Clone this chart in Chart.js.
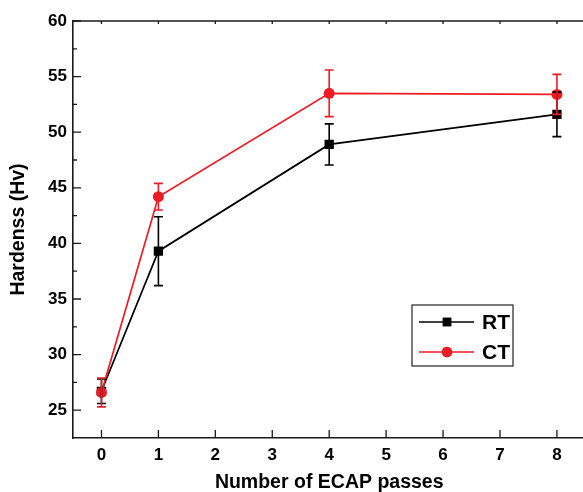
<!DOCTYPE html>
<html lang="en">
<head>
<meta charset="UTF-8">
<title>Hardness vs ECAP passes</title>
<script src="https://cdn.jsdelivr.net/npm/chart.js"></script>
<style>
    html, body { margin: 0; padding: 0; background: #fff; overflow: hidden; }
    body { width: 583px; height: 492px; }
    #wrap { width: 592px; height: 492px; }
</style>
</head>
<body>
<div id="wrap"><canvas id="chartCanvas"></canvas></div>
<script>
// data
const passes = [0, 1, 4, 8];
const rtValues = [26.7, 39.3, 48.9, 51.6];
const rtErrors = [1.1, 3.1, 1.85, 2.0];
const ctValues = [26.6, 44.2, 53.5, 53.4];
const ctErrors = [1.3, 1.2, 2.1, 1.8];
const xTicks = [0, 1, 2, 3, 4, 5, 6, 7, 8];
const yTicks = [25, 30, 35, 40, 45, 50, 55, 60];
const yMinorTicks = [27.5, 32.5, 37.5, 42.5, 47.5, 52.5, 57.5];

const RED = '#ec1c24';
const BLACK = '#000000';
const AXIS = '#1a1a1a';
const FONT = 'Arial, "Liberation Sans", sans-serif';

const series = [
    { label: 'RT', values: rtValues, errors: rtErrors, color: BLACK, style: 'rect', radius: 6.6 },
    { label: 'CT', values: ctValues, errors: ctErrors, color: RED, style: 'circle', radius: 5.5 }
];

// inward ticks + top frame line
const frame = {
    id: 'frame',
    afterDatasetsDraw(chart) {
        const { ctx, chartArea: a, scales: { x, y } } = chart;
        ctx.save();
        ctx.strokeStyle = AXIS;
        ctx.lineWidth = 1.6;
        ctx.beginPath();
        ctx.moveTo(a.left, a.top);
        ctx.lineTo(a.right, a.top);
        ctx.stroke();
        ctx.lineWidth = 1.3;
        ctx.beginPath();
        xTicks.forEach(v => {
            const px = x.getPixelForValue(v);
            ctx.moveTo(px, a.bottom);
            ctx.lineTo(px, a.bottom - 8);
            ctx.moveTo(px, a.top);
            ctx.lineTo(px, a.top + 3);
        });
        yTicks.forEach(v => {
            const py = y.getPixelForValue(v);
            ctx.moveTo(a.left, py);
            ctx.lineTo(a.left + 8, py);
        });
        yMinorTicks.forEach(v => {
            const py = y.getPixelForValue(v);
            ctx.moveTo(a.left, py);
            ctx.lineTo(a.left + 4, py);
        });
        ctx.stroke();
        ctx.restore();
    }
};

// error bars drawn over the markers
const errorBars = {
    id: 'errorBars',
    afterDatasetsDraw(chart) {
        const { ctx, scales: { x, y } } = chart;
        ctx.save();
        ctx.lineWidth = 1.6;
        series.forEach(s => {
            ctx.strokeStyle = s.color;
            ctx.beginPath();
            passes.forEach((p, i) => {
                const px = x.getPixelForValue(p);
                const top = y.getPixelForValue(s.values[i] + s.errors[i]);
                const bot = y.getPixelForValue(s.values[i] - s.errors[i]);
                ctx.moveTo(px, top);
                ctx.lineTo(px, bot);
                ctx.moveTo(px - 4.5, top);
                ctx.lineTo(px + 4.5, top);
                ctx.moveTo(px - 4.5, bot);
                ctx.lineTo(px + 4.5, bot);
            });
            ctx.stroke();
        });
        ctx.restore();
    }
};

// boxed legend with line + marker samples
const boxLegend = {
    id: 'boxLegend',
    afterDraw(chart) {
        const { ctx, chartArea: a } = chart;
        const bx = a.left + 339, by = a.top + 284, bw = 101, bh = 61;
        ctx.save();
        ctx.fillStyle = '#fff';
        ctx.fillRect(bx, by, bw, bh);
        ctx.strokeStyle = '#222';
        ctx.lineWidth = 1.2;
        ctx.strokeRect(bx, by, bw, bh);
        series.forEach((s, i) => {
            const ly = by + 17 + i * 30;
            ctx.strokeStyle = s.color;
            ctx.lineWidth = 1.5;
            ctx.beginPath();
            ctx.moveTo(bx + 7, ly);
            ctx.lineTo(bx + 62, ly);
            ctx.stroke();
            ctx.fillStyle = s.color;
            Chart.helpers.drawPoint(ctx, { pointStyle: s.style, radius: s.style === 'rect' ? 6 : 5.2, borderWidth: 0 }, bx + 35, ly);
            ctx.fill();
            ctx.fillStyle = '#000';
            ctx.font = 'bold 21px ' + FONT;
            ctx.textBaseline = 'middle';
            ctx.textAlign = 'left';
            ctx.fillText(s.label, bx + 70, ly + 1);
        });
        ctx.restore();
    }
};

const ctx = document.getElementById('chartCanvas').getContext('2d');
window.myChart = new Chart(ctx, {
    type: 'line',
    data: {
        datasets: series.map((s, i) => ({
            label: s.label,
            data: passes.map((p, j) => ({ x: p, y: s.values[j] })),
            borderColor: s.color,
            backgroundColor: s.color,
            borderWidth: 1.7,
            pointStyle: s.style,
            pointRadius: s.radius,
            pointBorderWidth: 0,
            pointBackgroundColor: s.color,
            tension: 0,
            order: i === 0 ? 1 : 0
        }))
    },
    options: {
        responsive: true,
        maintainAspectRatio: false,
        animation: false,
        events: [],
        layout: { padding: { top: 21, right: 0, left: 0, bottom: 0 } },
        plugins: { legend: { display: false }, tooltip: { enabled: false } },
        scales: {
            x: {
                type: 'linear',
                min: -0.5,
                max: 8.5,
                afterBuildTicks: s => { s.ticks = xTicks.map(v => ({ value: v })); },
                afterFit: s => { s.height = 54; },
                grid: { display: false, drawTicks: false, tickLength: 0 },
                border: { display: true, color: AXIS, width: 1.6 },
                ticks: { color: '#000', font: { family: FONT, size: 17, weight: 'bold' }, padding: 7, maxRotation: 0, autoSkip: false },
                title: { display: true, text: 'Number of ECAP passes', color: '#000',
                    font: { family: FONT, size: 19.5, weight: 'bold', lineHeight: 1 }, padding: { top: 0, bottom: 0 } }
            },
            y: {
                type: 'linear',
                min: 22.5,
                max: 60,
                afterBuildTicks: s => { s.ticks = yTicks.map(v => ({ value: v })); },
                afterFit: s => { s.width = 73; },
                grid: { display: false, drawTicks: false, tickLength: 0 },
                border: { display: true, color: AXIS, width: 1.6 },
                ticks: { color: '#000', font: { family: FONT, size: 17, weight: 'bold' }, padding: 6 },
                title: { display: true, text: 'Hardenss (Hv)', color: '#000',
                    font: { family: FONT, size: 19.5, weight: 'bold', lineHeight: 1 }, padding: { top: 9, bottom: 0 } }
            }
        }
    },
    plugins: [frame, errorBars, boxLegend]
});
</script>
</body>
</html>
